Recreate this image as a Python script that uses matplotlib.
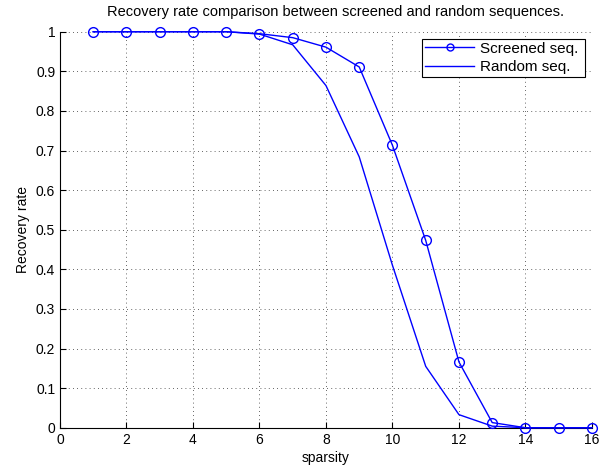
import numpy as np
import matplotlib
matplotlib.use('Agg')
import matplotlib.pyplot as plt

sparsity = np.arange(1, 17)
screened = [1, 1, 1, 1, 1, 0.995, 0.985, 0.961, 0.911, 0.713, 0.473, 0.166, 0.013, 0, 0, 0]
random_seq = [1, 1, 1, 1, 1, 0.994, 0.967, 0.864, 0.684, 0.41, 0.155, 0.033, 0.004, 0, 0, 0]

plt.rcParams['font.family'] = 'Liberation Sans'
plt.rcParams['font.size'] = 10

fig = plt.figure(figsize=(6.14, 4.72), dpi=100)
ax = fig.add_axes([0.0977, 0.0938, 0.8664, 0.839])

ax.plot(sparsity, screened, '-o', color='#0000ff', lw=1, mfc='none', mec='#0000ff',
        ms=7, mew=1, label='Screened seq. ', clip_on=False, zorder=5)
ax.plot(sparsity, random_seq, '-', color='#0000ff', lw=1, label='Random seq.',
        clip_on=False, zorder=5)

ax.set_xlim(0, 16)
ax.set_ylim(0, 1)
ax.set_xticks(np.arange(0, 17, 2))
ax.set_yticks(np.arange(0, 1.01, 0.1))
ax.set_yticklabels(['0', '0.1', '0.2', '0.3', '0.4', '0.5', '0.6', '0.7', '0.8', '0.9', '1'])
ax.spines['top'].set_visible(False)
ax.spines['right'].set_visible(False)
ax.tick_params(direction='in', length=4, labelsize=10)
ax.grid(True, color='#333333', linestyle=(0, (1, 4)), lw=0.6)
ax.set_xlabel('sparsity', labelpad=3)
ax.set_ylabel('Recovery rate')
ax.set_title('Recovery rate comparison between screened and random sequences.',
             fontsize=10.5, pad=11, x=0.517)

leg = ax.legend(loc='upper right', fancybox=False, edgecolor='black', framealpha=1,
                borderaxespad=0.45, handlelength=3.2, labelspacing=0.3,
                borderpad=0.2, handletextpad=0.35, fontsize=11)
leg.get_frame().set_linewidth(0.8)
for h in leg.legend_handles:
    h.set_markersize(5)

fig.savefig('out.png', dpi=100)
